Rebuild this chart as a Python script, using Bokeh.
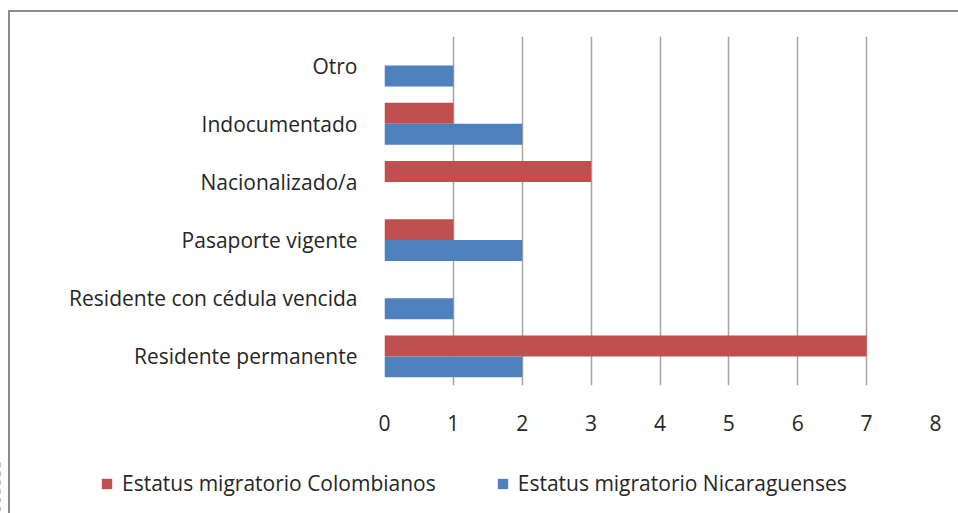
from bokeh.plotting import figure
from bokeh.models import (ColumnDataSource, FactorRange, Range1d, Legend, LegendItem,
                          FixedTicker)
from bokeh.layouts import column
from bokeh.transform import dodge
from bokeh.embed import file_html
from bokeh.resources import INLINE

categories = ["Residente permanente", "Residente con cédula vencida", "Pasaporte vigente",
              "Nacionalizado/a", "Indocumentado", "Otro"]
colombianos = [7, 0, 1, 3, 1, 0]
nicaraguenses = [2, 1, 2, 0, 2, 1]
x_ticks = [0, 1, 2, 3, 4, 5, 6, 7, 8]
series_names = ["Estatus migratorio Colombianos", "Estatus migratorio Nicaraguenses"]
colors = ["#C0504D", "#4F81BD"]

FONT = "Open Sans"
FS = "21px"
TEXT_COLOR = "#262626"
BORDER = "#8C8C8C"

src = ColumnDataSource(dict(cat=categories, col=colombianos, nic=nicaraguenses))

p = figure(y_range=FactorRange(factors=categories, range_padding=0),
           x_range=Range1d(0, 8),
           output_backend="svg", toolbar_location=None,
           frame_width=551, frame_height=349,
           min_border_left=384, min_border_right=23,
           min_border_top=36, min_border_bottom=75)
p.background_fill_color = "white"
p.border_fill_color = None
p.outline_line_color = None
# outer chart border: left and top edges of the Excel chart area
p.styles = {
    "background": (f"linear-gradient({BORDER},{BORDER}) 8px 10px / 2px calc(100% - 10px) no-repeat, "
                   f"linear-gradient({BORDER},{BORDER}) 8px 10px / calc(100% - 8px) 2px no-repeat, "
                   "white"),
}

r_col = p.hbar(y=dodge("cat", 0.18, range=p.y_range), right="col", left=0, height=0.36,
               source=src, color=colors[0], line_color=None)
r_nic = p.hbar(y=dodge("cat", -0.18, range=p.y_range), right="nic", left=0, height=0.36,
               source=src, color=colors[1], line_color=None)

# x axis
p.xaxis.ticker = FixedTicker(ticks=x_ticks)
p.xaxis.axis_line_color = None
p.xaxis.major_tick_line_color = None
p.xaxis.minor_tick_line_color = None
p.xaxis.major_label_standoff = 23
p.xaxis.major_label_text_font = FONT
p.xaxis.major_label_text_font_size = FS
p.xaxis.major_label_text_color = TEXT_COLOR

# y axis
p.yaxis.axis_line_color = None
p.yaxis.major_tick_line_color = None
p.yaxis.minor_tick_line_color = None
p.yaxis.major_label_standoff = 21
p.yaxis.major_label_text_font = FONT
p.yaxis.major_label_text_font_size = FS
p.yaxis.major_label_text_color = TEXT_COLOR

p.xgrid.grid_line_color = "#A6A6A6"
p.xgrid.grid_line_width = 1.5
p.ygrid.grid_line_color = None

# legend strip below the chart.
# Its x range starts beyond the data, so the proxy bars stay out of view.
lg = figure(width=958, height=53, x_range=Range1d(10, 11),
            y_range=FactorRange(factors=categories),
            output_backend="svg", toolbar_location=None,
            x_axis_location=None, y_axis_location=None,
            min_border_left=0, min_border_right=0, min_border_top=0, min_border_bottom=0)
for fig in (p, lg):
    if "frame_align" in fig.properties():
        fig.frame_align = False
lg.grid.visible = False
lg.outline_line_color = None
lg.background_fill_color = None
lg.border_fill_color = None
l_col = lg.hbar(y="cat", right="col", left=0, height=0.5, source=src,
                color=colors[0], line_color=None)
l_nic = lg.hbar(y="cat", right="nic", left=0, height=0.5, source=src,
                color=colors[1], line_color=None)

legend = Legend(items=[LegendItem(label=series_names[0], renderers=[l_col]),
                       LegendItem(label=series_names[1], renderers=[l_nic])],
                orientation="horizontal", location=(100, 16),
                glyph_width=13, glyph_height=13, label_standoff=9, spacing=60,
                padding=0, margin=0, border_line_color=None, background_fill_alpha=0,
                label_text_font=FONT, label_text_font_size=FS,
                label_text_color=TEXT_COLOR)
lg.add_layout(legend, "center")

layout = column(p, lg, spacing=0)
# left border of the chart area continues behind the legend strip
layout.styles = {
    "background": (f"linear-gradient({BORDER},{BORDER}) 8px 460px / 2px calc(100% - 460px) no-repeat, "
                   "white"),
}
open("out.html", "w").write(file_html(layout, INLINE))
